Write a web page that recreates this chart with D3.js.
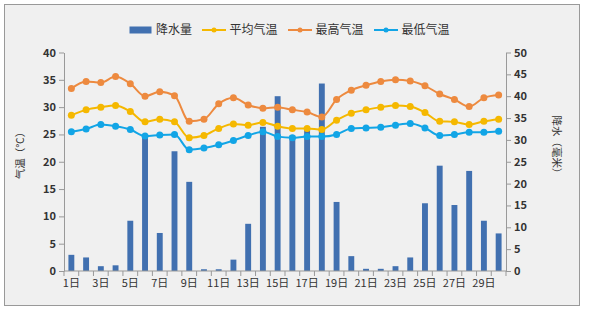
<!DOCTYPE html>
<html><head><meta charset="utf-8">
<script src="https://cdn.jsdelivr.net/npm/d3@7"></script>
<style>body{margin:0;background:#fff}svg{display:block}</style>
</head><body><svg id="c" width="589" height="313"></svg>
<script>
const days = d3.range(1,31).map(d=>d+"日");
const precip = [3.7,3.1,1.1,1.3,11.5,30.7,8.7,27.4,20.4,0.4,0.4,2.6,10.8,33.0,40.0,31.0,32.3,42.9,15.8,3.4,0.5,0.5,1.1,3.1,15.5,24.1,15.1,22.9,11.5,8.6];
const avgT = [28.5,29.5,30.0,30.3,29.2,27.3,27.8,27.3,24.4,24.8,26.1,26.9,26.7,27.2,26.5,26.1,26.1,25.9,27.6,28.9,29.5,30.0,30.3,30.1,29.0,27.4,27.3,26.8,27.4,27.8];
const maxT = [33.4,34.7,34.5,35.6,34.3,32.0,32.8,32.1,27.4,27.8,30.6,31.7,30.4,29.8,30.0,29.5,29.1,28.2,31.4,33.1,34.0,34.7,35.0,34.8,33.9,32.4,31.4,30.1,31.7,32.2];
const minT = [25.5,26.0,26.8,26.5,25.9,24.7,24.9,25.0,22.2,22.5,23.1,23.9,24.8,25.5,24.6,24.4,24.6,24.6,25.0,26.1,26.2,26.3,26.7,27.0,26.2,24.8,25.0,25.4,25.4,25.6];
const tempTicks = [0,5,10,15,20,25,30,35,40];
const rainTicks = [0,5,10,15,20,25,30,35,40,45,50];
const legendNames = ["降水量","平均气温","最高气温","最低气温"];
const colors = {bar:"#4170b0", avg:"#f5b800", max:"#ed8a3f", min:"#12a5e6"};

const svg = d3.select("#c");
const font = "'Noto Sans CJK SC','DejaVu Sans',sans-serif";
svg.append("rect").attr("x",4.5).attr("y",4.5).attr("width",575).attr("height",301)
  .attr("fill","#f0f0f0").attr("stroke","#999");

const L=64, R=506, T=52.5, B=271;
const x = d3.scaleBand().domain(days).range([L,R]);
const yT = d3.scaleLinear().domain([0,40]).range([B,T]);
const yR = d3.scaleLinear().domain([0,50]).range([B,T]);

// bars
const bw = x.bandwidth()*0.4;
svg.append("g").selectAll("rect").data(precip).join("rect")
  .attr("x",(d,i)=>x(days[i])+x.bandwidth()/2-bw/2).attr("width",bw)
  .attr("y",d=>yR(d)).attr("height",d=>B-yR(d)).attr("fill",colors.bar);

// axes
function styleAxis(g){
  g.selectAll("path,line").attr("stroke","#999");
  g.selectAll("text").attr("fill","#333").attr("font-family",font).attr("font-size",11).attr("font-weight","bold");
}
svg.append("g").attr("transform",`translate(${L},0)`)
  .call(d3.axisLeft(yT).tickValues(tempTicks).tickSize(5).tickSizeOuter(0).tickPadding(3)).call(styleAxis);
svg.append("g").attr("transform",`translate(${R},0)`)
  .call(d3.axisRight(yR).tickValues(rainTicks).tickSize(5).tickSizeOuter(0).tickPadding(3)).call(styleAxis);
const xa = svg.append("g").attr("transform",`translate(0,${B})`)
  .call(d3.axisBottom(x).tickSize(0).tickPadding(8).tickFormat((d,i)=>i%2===0?d:""));
xa.select(".domain").attr("d",`M${L},0H${R}`);
xa.selectAll(".tick line").remove();
styleAxis(xa);
xa.selectAll("text").attr("font-weight","normal");
// boundary ticks
xa.selectAll(".bt").data(d3.range(31)).join("line").attr("class","bt")
  .attr("x1",i=>L+i*x.step()).attr("x2",i=>L+i*x.step()).attr("y1",0).attr("y2",5).attr("stroke","#999");

// lines
const series = [[avgT,colors.avg],[maxT,colors.max],[minT,colors.min]];
const line = d3.line().x((d,i)=>x(days[i])+x.bandwidth()/2).y(d=>yT(d)).curve(d3.curveMonotoneX);
series.forEach(([data,c])=>{
  svg.append("path").datum(data).attr("d",line).attr("fill","none").attr("stroke",c).attr("stroke-width",2);
  svg.append("g").selectAll("circle").data(data).join("circle")
    .attr("cx",(d,i)=>x(days[i])+x.bandwidth()/2).attr("cy",d=>yT(d)).attr("r",3.5).attr("fill",c);
});

// axis titles
svg.append("text").attr("transform","translate(24,153) rotate(-90)").attr("text-anchor","middle")
  .attr("font-family",font).attr("font-size",10.5).attr("fill","#333").text("气温（℃）");
svg.append("text").attr("transform","translate(553,147) rotate(90)").attr("text-anchor","middle")
  .attr("font-family",font).attr("font-size",10.5).attr("fill","#333").text("降水（毫米）");

// legend
const lg = svg.append("g");
const lx = [129.5,202,288,374];
const ly = 30;
const lc = [colors.bar,colors.avg,colors.max,colors.min];
legendNames.forEach((n,i)=>{
  if(i===0){
    lg.append("rect").attr("x",lx[i]).attr("y",ly-3.5).attr("width",22).attr("height",7).attr("fill",lc[i]);
  } else {
    lg.append("line").attr("x1",lx[i]).attr("x2",lx[i]+24).attr("y1",ly).attr("y2",ly).attr("stroke",lc[i]).attr("stroke-width",2);
    lg.append("circle").attr("cx",lx[i]+12).attr("cy",ly).attr("r",2.5).attr("fill",lc[i]);
  }
  lg.append("text").attr("x",lx[i]+(i===0?26.5:27.5)).attr("y",ly).attr("dy","0.35em").attr("font-family",font)
    .attr("font-size",12).attr("fill","#333").text(n);
});
</script></body></html>
